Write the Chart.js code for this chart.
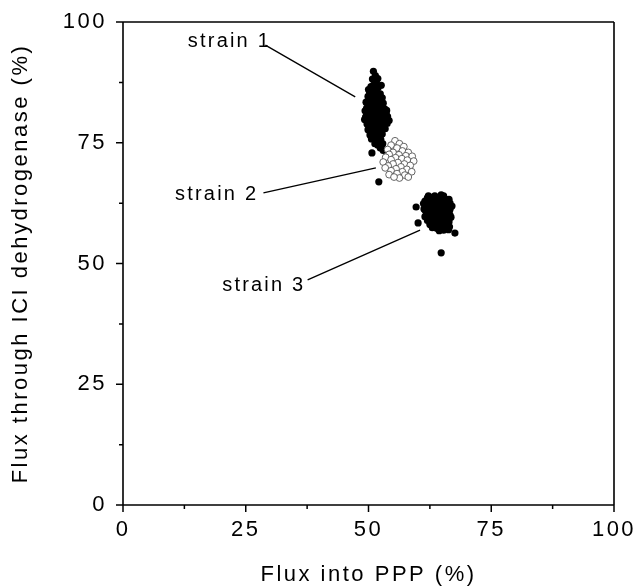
<!DOCTYPE html>
<html><head><meta charset="utf-8">
<script src="https://cdn.jsdelivr.net/npm/chart.js@4/dist/chart.umd.min.js"></script>
<style>html,body{margin:0;padding:0;background:#fff}#wrap{width:638px;height:588px}</style>
</head><body><div id="wrap"><canvas id="c" width="638" height="588"></canvas></div>
<script>
const xTicks = [0, 25, 50, 75, 100];
const yTicks = [0, 25, 50, 75, 100];
const minorTicks = [12.5, 37.5, 62.5, 87.5];
const xTitle = 'Flux into PPP (%)';
const yTitle = 'Flux through ICI dehydrogenase (%)';
const seriesNames = ['strain 1', 'strain 2', 'strain 3'];

const strain1 = [[51.0,89.8],[51.4,88.9],[50.8,88.2],[51.6,87.6],[51.1,87.0],[50.5,86.6],[52.0,86.5],[51.3,86.0],[50.2,85.6],[51.8,85.4],[52.4,85.1],[50.8,85.0],[49.9,84.6],[51.5,84.5],[52.8,84.3],[50.4,84.0],[51.2,83.8],[52.1,83.6],[49.5,83.4],[53.0,83.2],[50.7,83.0],[51.8,82.8],[49.9,82.5],[52.5,82.4],[51.1,82.2],[53.3,82.0],[50.3,81.8],[49.3,81.6],[52.0,81.5],[51.4,81.2],[53.6,81.0],[50.8,80.9],[49.6,80.7],[52.7,80.6],[51.9,80.3],[50.2,80.1],[53.2,80.0],[49.2,79.8],[51.2,79.7],[54.2,79.6],[52.4,79.4],[50.6,79.2],[53.8,79.0],[49.7,78.9],[51.7,78.7],[52.9,78.5],[50.3,78.3],[51.1,78.0],[53.4,77.9],[49.9,77.7],[52.2,77.6],[50.8,77.3],[51.6,77.0],[52.8,76.8],[50.3,76.6],[51.9,76.3],[51.2,76.0],[52.5,75.7],[51.6,75.2],[52.9,74.8],[51.9,74.5],[52.4,73.9],[53.0,73.4],[50.7,72.9],[52.1,66.9],[51.0,84.2],[52.3,82.9],[50.5,82.1],[51.7,80.0],[52.9,81.6],[50.9,78.8],[52.0,79.1],[51.5,83.2],[50.1,83.0],[53.1,78.2],[50.0,86.0],[52.6,86.9],[51.9,88.3],[50.6,84.9],[52.6,83.9],[49.8,81.2],[53.9,80.4],[49.4,80.3],[50.4,79.6],[53.5,79.3],[52.2,78.2],[50.1,79.0],[53.7,81.7],[49.6,82.1],[52.2,84.9],[50.9,86.8],[51.5,78.9],[52.5,77.2],[51.1,77.7],[50.6,75.8],[52.3,75.2],[52.0,76.9],[51.4,81.9],[50.9,80.4],[52.6,80.9],[53.4,80.7],[49.8,79.3],[51.3,74.8],[52.7,74.2]];

const strain2 = [[55.4,75.4],[56.3,74.8],[54.6,74.5],[57.2,74.2],[55.8,73.9],[53.9,73.6],[56.9,73.3],[58.1,73.0],[55.0,73.0],[54.2,72.6],[56.2,72.5],[57.6,72.3],[58.9,72.2],[53.5,72.0],[55.5,71.9],[56.8,71.7],[54.6,71.5],[57.9,71.4],[59.2,71.2],[53.0,71.0],[56.0,70.9],[55.0,70.6],[57.3,70.6],[58.5,70.3],[54.0,70.2],[56.6,70.0],[53.4,69.8],[55.6,69.6],[57.8,69.5],[54.6,69.2],[56.9,69.0],[58.8,69.0],[55.8,68.6],[54.2,68.4],[57.4,68.3],[56.3,67.7],[55.2,67.9],[58.1,67.9]];

const strain3 = [[64.8,64.2],[62.0,63.6],[63.0,63.7],[63.9,63.5],[65.6,63.4],[61.5,62.9],[62.6,62.8],[63.5,62.9],[64.4,62.7],[65.2,62.6],[66.0,62.8],[61.8,62.1],[62.9,62.0],[63.8,61.9],[64.7,62.0],[65.6,61.8],[66.4,62.0],[61.3,61.3],[62.3,61.2],[63.2,61.4],[64.1,61.1],[65.0,61.3],[65.9,61.0],[66.6,61.2],[61.9,60.5],[62.8,60.4],[63.7,60.6],[64.5,60.3],[65.4,60.5],[66.2,60.2],[61.5,59.7],[62.4,59.6],[63.3,59.8],[64.2,59.5],[65.1,59.7],[66.0,59.4],[66.8,59.6],[62.0,58.9],[62.9,58.8],[63.8,59.0],[64.6,58.7],[65.5,58.9],[66.4,58.6],[62.5,58.1],[63.4,58.0],[64.3,58.2],[65.1,57.9],[66.0,58.1],[63.0,57.4],[63.9,57.3],[64.8,57.5],[65.7,57.2],[66.5,57.6],[64.4,56.8],[65.3,56.9],[59.7,61.7],[60.1,58.4],[67.0,61.9],[67.6,56.3],[64.8,52.2],[63.5,64.0],[62.4,63.2],[65.0,63.0],[61.2,62.4],[62.0,62.5],[63.2,62.3],[64.0,62.4],[64.9,62.3],[65.8,62.3],[66.6,62.5],[61.6,60.9],[62.6,60.9],[63.5,60.9],[64.6,60.8],[65.5,60.9],[66.4,60.7],[61.8,60.1],[62.7,59.9],[63.7,60.1],[64.7,59.9],[65.7,60.0],[66.6,60.0],[62.2,59.3],[63.1,59.3],[64.0,59.2],[65.0,59.2],[65.9,59.1],[62.6,58.5],[63.6,58.5],[64.5,58.4],[65.4,58.4],[66.2,58.2],[63.2,57.8],[64.2,57.7],[65.4,57.5],[66.3,57.0],[62.2,64.0],[65.3,64.0],[63.4,63.3],[66.4,63.3]];

// label anchors in data units: text position and leader line ends
const labelText = [[13.2,95.9],[10.6,64.2],[20.2,45.5]];
const leaderFrom = [[29.0,95.2],[28.6,64.6],[37.6,46.6]];
const leaderTo = [[47.3,84.5],[51.5,69.8],[60.5,56.9]];

const toPts = a => a.map(p => ({x: p[0], y: p[1]}));
const FONT = "'Liberation Sans', Arial, sans-serif";
const LS = '2.5px';

const spacingPlugin = {
  id: 'spacing',
  beforeLayout(c) { c.ctx.letterSpacing = LS; },
  beforeDraw(c) { c.ctx.letterSpacing = LS; }
};

const framePlugin = {
  id: 'frame',
  afterDraw(c) {
    const ctx = c.ctx, a = c.chartArea, xs = c.scales.x, ys = c.scales.y;
    ctx.save();
    ctx.strokeStyle = '#000';
    ctx.lineWidth = 1.6;
    ctx.beginPath();
    ctx.moveTo(a.left, a.top); ctx.lineTo(a.right, a.top);
    ctx.moveTo(a.right, a.top); ctx.lineTo(a.right, a.bottom);
    ctx.moveTo(a.left, a.bottom); ctx.lineTo(a.right, a.bottom);
    ctx.moveTo(a.left, a.top); ctx.lineTo(a.left, a.bottom);
    ctx.stroke();
    ctx.lineWidth = 1.5;
    ctx.beginPath();
    xTicks.forEach(v => { const px = xs.getPixelForValue(v); ctx.moveTo(px, a.bottom); ctx.lineTo(px, a.bottom + 7); });
    minorTicks.forEach(v => { const px = xs.getPixelForValue(v); ctx.moveTo(px, a.bottom); ctx.lineTo(px, a.bottom + 4); });
    yTicks.forEach(v => { const py = ys.getPixelForValue(v); ctx.moveTo(a.left, py); ctx.lineTo(a.left - 7, py); });
    minorTicks.forEach(v => { const py = ys.getPixelForValue(v); ctx.moveTo(a.left, py); ctx.lineTo(a.left - 4, py); });
    ctx.stroke();
    // labels + leader lines
    ctx.lineWidth = 1.3;
    ctx.beginPath();
    leaderFrom.forEach((f, i) => {
      const t = leaderTo[i];
      ctx.moveTo(xs.getPixelForValue(f[0]), ys.getPixelForValue(f[1]));
      ctx.lineTo(xs.getPixelForValue(t[0]), ys.getPixelForValue(t[1]));
    });
    ctx.stroke();
    ctx.letterSpacing = '2.2px';
    ctx.fillStyle = '#000';
    ctx.font = '20px ' + FONT;
    ctx.textAlign = 'left';
    ctx.textBaseline = 'middle';
    labelText.forEach((p, i) => {
      ctx.fillText(seriesNames[i], xs.getPixelForValue(p[0]), ys.getPixelForValue(p[1]));
    });
    ctx.restore();
  }
};

new Chart(document.getElementById('c'), {
  type: 'scatter',
  data: {
    datasets: [
      {label: seriesNames[0], data: toPts(strain1), pointRadius: 3.6, pointBackgroundColor: '#000', pointBorderWidth: 0, order: 3},
      {label: seriesNames[2], data: toPts(strain3), pointRadius: 3.6, pointBackgroundColor: '#000', pointBorderWidth: 0, order: 2},
      {label: seriesNames[1], data: toPts(strain2), pointRadius: 3.4, pointBackgroundColor: '#fff', pointBorderColor: '#555', pointBorderWidth: 0.9, order: 1}
    ]
  },
  options: {
    responsive: false,
    animation: false,
    devicePixelRatio: 1,
    layout: {padding: {top: 22, right: 24, left: 0, bottom: 0}},
    plugins: {legend: {display: false}, tooltip: {enabled: false}},
    scales: {
      x: {
        type: 'linear', min: 0, max: 100,
        afterBuildTicks: s => { s.ticks = xTicks.map(v => ({value: v})); },
        afterFit: s => { s.height = 83; s.paddingLeft = 0; s.paddingRight = 0; },
        grid: {display: false, drawTicks: false},
        border: {display: false},
        ticks: {color: '#000', padding: 12, font: {family: FONT, size: 22}, maxRotation: 0},
        title: {display: true, text: xTitle, color: '#000', font: {family: FONT, size: 22}, padding: {top: 0, bottom: 0}}
      },
      y: {
        type: 'linear', min: 0, max: 100,
        afterBuildTicks: s => { s.ticks = yTicks.map(v => ({value: v})); },
        afterFit: s => { s.width = 123; s.paddingTop = 0; s.paddingBottom = 0; },
        grid: {display: false, drawTicks: false},
        border: {display: false},
        ticks: {color: '#000', padding: 16, font: {family: FONT, size: 22}},
        title: {display: true, text: yTitle, color: '#000', font: {family: FONT, size: 22}, padding: {top: 8, bottom: 0}}
      }
    }
  },
  plugins: [spacingPlugin, framePlugin]
});
</script></body></html>
